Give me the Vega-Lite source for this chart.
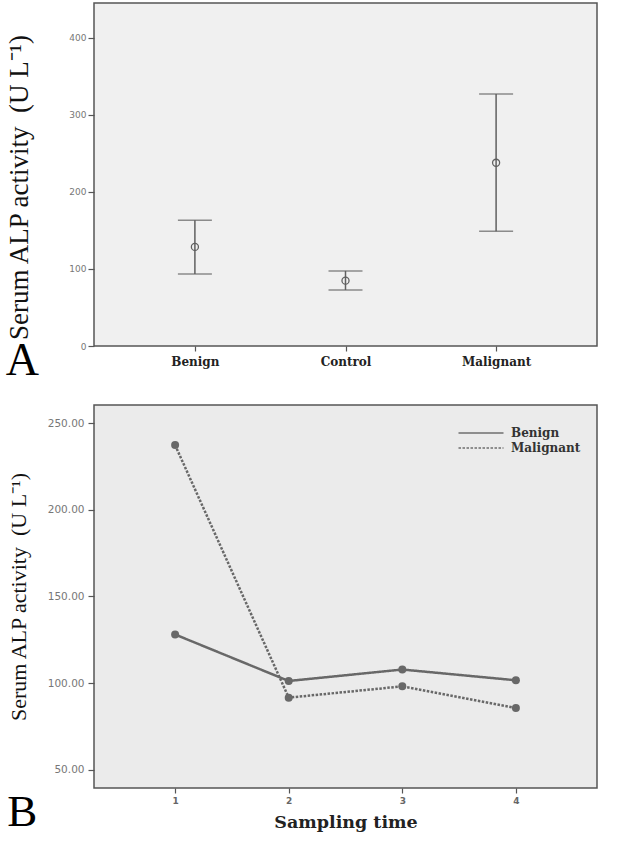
{
  "$schema": "https://vega.github.io/schema/vega-lite/v6.json",
  "background": "white",
  "padding": {"left": 5, "top": 2, "right": 5, "bottom": 2},
  "spacing": 19,
  "resolve": {"legend": {"strokeDash": "independent"}},
  "config": {
    "axis": {"grid": false, "domain": false, "tickColor": "#555555", "tickWidth": 1.2}
  },
  "vconcat": [
    {
      "width": 503,
      "height": 343,
      "view": {"fill": "#f0f0f0", "stroke": "#555555", "strokeWidth": 1.5},
      "title": {"text": "A", "orient": "bottom", "anchor": "start", "frame": "bounds", "font": "Liberation Serif", "fontSize": 46, "fontWeight": "normal", "color": "#000000", "baseline": "alphabetic", "offset": 8},
      "data": {"values": [
        {"group": "Benign", "mean": 128.6, "lower": 93.5, "upper": 163},
        {"group": "Control", "mean": 84.8, "lower": 72.7, "upper": 97.4},
        {"group": "Malignant", "mean": 237.7, "lower": 149, "upper": 327}
      ]},
      "encoding": {
        "x": {"field": "group", "type": "nominal", "scale": {"type": "point", "padding": 0.67},
          "axis": {"title": null, "labelAngle": 0, "labelFont": "DejaVu Serif", "labelFontWeight": "bold", "labelFontSize": 12, "labelColor": "#222222", "tickSize": 5, "labelPadding": 5}}
      },
      "layer": [
        {
          "mark": {"type": "rule", "color": "#606060", "strokeWidth": 1.5},
          "encoding": {
            "y": {"field": "lower", "type": "quantitative", "title": "Serum ALP activity\u2002(U L\u207b\u00b9)",
              "scale": {"domain": [0, 445], "nice": false, "zero": false},
              "axis": {"values": [0, 100, 200, 300, 400], "labelFont": "DejaVu Sans", "labelFontSize": 9, "labelColor": "#777777", "tickSize": 6, "labelPadding": 2, "titleFont": "Liberation Serif", "titleFontSize": 27, "titleFontWeight": "normal", "titleColor": "#111111", "titlePadding": 35, "titleY": 184}},
            "y2": {"field": "upper"}
          }
        },
        {
          "mark": {"type": "tick", "color": "#606060", "thickness": 1.5, "size": 34},
          "encoding": {"y": {"field": "upper", "type": "quantitative", "title": "Serum ALP activity\u2002(U L\u207b\u00b9)"}}
        },
        {
          "mark": {"type": "tick", "color": "#606060", "thickness": 1.5, "size": 34},
          "encoding": {"y": {"field": "lower", "type": "quantitative", "title": "Serum ALP activity\u2002(U L\u207b\u00b9)"}}
        },
        {
          "mark": {"type": "point", "shape": "circle", "filled": false, "size": 50, "color": "#606060", "strokeWidth": 1.3, "opacity": 1},
          "encoding": {"y": {"field": "mean", "type": "quantitative", "title": "Serum ALP activity\u2002(U L\u207b\u00b9)"}}
        }
      ]
    },
    {
      "width": 503,
      "height": 383,
      "view": {"fill": "#ebebeb", "stroke": "#555555", "strokeWidth": 1.5},
      "title": {"text": "B", "orient": "bottom", "anchor": "start", "frame": "bounds", "font": "Liberation Serif", "fontSize": 45, "fontWeight": "normal", "color": "#000000", "baseline": "alphabetic", "offset": -5},
      "data": {"values": [
        {"time": 1, "series": "Benign", "value": 128.1},
        {"time": 2, "series": "Benign", "value": 101.3},
        {"time": 3, "series": "Benign", "value": 107.9},
        {"time": 4, "series": "Benign", "value": 101.7},
        {"time": 1, "series": "Malignant", "value": 237.3},
        {"time": 2, "series": "Malignant", "value": 91.7},
        {"time": 3, "series": "Malignant", "value": 98.2},
        {"time": 4, "series": "Malignant", "value": 85.7}
      ]},
      "encoding": {
        "x": {"field": "time", "type": "ordinal", "scale": {"type": "point", "padding": 0.714},
          "axis": {"title": "Sampling time", "labelAngle": 0, "labelFont": "DejaVu Sans", "labelFontWeight": "bold", "labelFontSize": 9, "labelColor": "#666666", "tickSize": 5, "labelPadding": 3, "titleFont": "DejaVu Serif", "titleFontSize": 17.5, "titleFontWeight": "bold", "titleColor": "#222222", "titlePadding": 8}},
        "y": {"field": "value", "type": "quantitative", "title": "Serum ALP activity\u2002(U L\u207b\u00b9)",
          "scale": {"domain": [39.6, 260.4], "nice": false, "zero": false},
          "axis": {"values": [50, 100, 150, 200, 250], "format": ".2f", "labelFont": "DejaVu Sans", "labelFontSize": 10.5, "labelColor": "#777777", "tickSize": 6, "labelPadding": 4, "titleFont": "Liberation Serif", "titleFontSize": 22, "titleFontWeight": "normal", "titleColor": "#111111", "titlePadding": 17}}
      },
      "layer": [
        {
          "mark": {"type": "line", "color": "#686868", "strokeWidth": 2.5},
          "encoding": {
            "strokeDash": {"field": "series", "type": "nominal",
              "scale": {"domain": ["Benign", "Malignant"], "range": [[1, 0], [2.5, 1.5]]},
              "legend": {"title": null, "orient": "none", "legendX": 381, "legendY": 22, "symbolType": "M-5,0H5", "symbolSize": 81, "symbolStrokeColor": "#333333", "symbolStrokeWidth": 1.2, "labelFont": "DejaVu Serif", "labelFontWeight": "bold", "labelFontSize": 12, "labelColor": "#333333", "labelOffset": 24, "rowPadding": 3, "padding": 0}}
          }
        },
        {
          "mark": {"type": "point", "shape": "circle", "filled": true, "size": 64, "color": "#686868", "opacity": 1},
          "encoding": {"detail": {"field": "series", "type": "nominal"}}
        }
      ]
    }
  ]
}
